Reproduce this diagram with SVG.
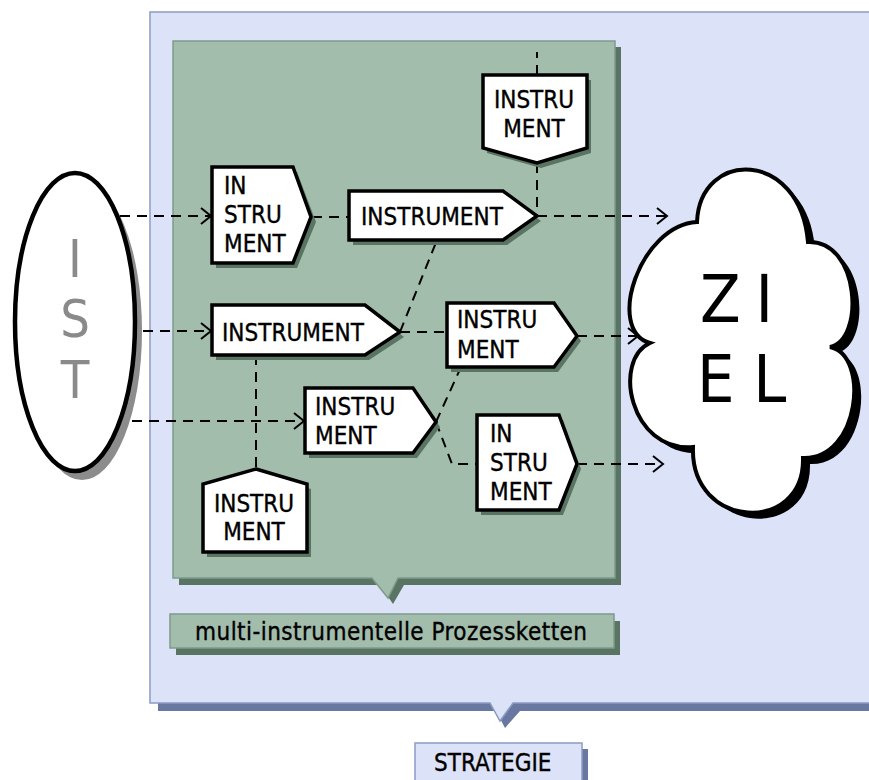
<svg xmlns="http://www.w3.org/2000/svg" width="869" height="780" viewBox="0 0 869 780">
<defs>
<style>
.lbl{font-family:"DejaVu Sans Condensed","DejaVu Sans","Liberation Sans",sans-serif;font-stretch:condensed;font-size:24px;fill:#000;stroke:#000;stroke-width:0.35}
.node{fill:#fff;stroke:#000;stroke-width:3.5;stroke-linejoin:miter}
.nsh{fill:#5a7464}
.con{fill:none;stroke:#000;stroke-width:2;stroke-dasharray:10 7}
.arr{marker-end:url(#chev)}
.big{font-family:"DejaVu Sans Condensed","DejaVu Sans",sans-serif;font-stretch:condensed}
</style>
<marker id="chev" markerUnits="userSpaceOnUse" markerWidth="14" markerHeight="20" refX="11" refY="10" orient="auto">
<path d="M1,2 L11,10 L1,18" fill="none" stroke="#000" stroke-width="2"/>
</marker>
</defs>
<rect width="869" height="780" fill="#fff"/>

<g id="strategie-frame">
<path d="M158,20 H880 V711 H520 L505,728 L496,711 H158 Z" fill="#6878a0"/>
<path d="M150,12 H880 V703 H513 L500,721 L490,703 H150 Z" fill="#dce3f8" stroke="#8c9bc2" stroke-width="1.5"/>
</g>

<g id="strategie-label">
<rect x="421" y="749" width="167" height="40" fill="#6878a0"/>
<rect x="415" y="743" width="167" height="40" fill="#dce3f8" stroke="#8c9bc2" stroke-width="1.5"/>
<text class="lbl" x="434" y="771">STRATEGIE</text>
</g>

<g id="prozess-frame">
<path d="M179,47 H621 V585 H404 L393,604 L380,585 H179 Z" fill="#5a7464"/>
<path d="M173,41 H615 V578 H398 L388,598 L372,578 H173 Z" fill="#a3bdad" stroke="#7f9a8c" stroke-width="1.5"/>
</g>

<g id="prozess-label">
<rect x="176" y="621" width="444" height="34" fill="#5a7464"/>
<rect x="170" y="614" width="444" height="34" fill="#a3bdad" stroke="#7f9a8c" stroke-width="1.5"/>
<text class="lbl" x="195" y="640" textLength="392">multi-instrumentelle Prozessketten</text>
</g>

<g id="ist">
<ellipse cx="82" cy="331" rx="60" ry="149" fill="#8c8c8c"/>
<ellipse cx="75" cy="322" rx="60" ry="149" fill="#fff" stroke="#000" stroke-width="4.5"/>
<text class="big" x="75" y="277" text-anchor="middle" font-size="52" fill="#8a8a8a">I</text>
<text class="big" x="75" y="337" text-anchor="middle" font-size="52" fill="#8a8a8a">S</text>
<text class="big" x="75" y="398" text-anchor="middle" font-size="52" fill="#8a8a8a">T</text>
</g>

<g id="ziel">
<path transform="translate(7,6)" d="M697,222 C700,149 800,149 808,242 C860,240 865,340 830,347 C870,355 860,460 803,458 C805,535 690,530 693,447 C630,452 612,360 650,343 C605,330 640,225 697,222 Z" fill="#000"/>
<path d="M697,222 C700,149 800,149 808,242 C860,240 865,340 830,347 C870,355 860,460 803,458 C805,535 690,530 693,447 C630,452 612,360 650,343 C605,330 640,225 697,222 Z" fill="#fff" stroke="#000" stroke-width="4"/>
<text class="big" x="700" y="322" font-size="66" letter-spacing="-2" fill="#000">Z I</text>
<text class="big" x="697" y="402" font-size="66" fill="#000">E L</text>
</g>

<g id="connectors">
<path class="con arr" d="M120,216 H211"/>
<path class="con" d="M312,217 H349"/>
<path class="con arr" d="M537,216 H667"/>
<path class="con" d="M537,75 V52"/>
<path class="con" d="M537,163 V216"/>
<path class="con arr" d="M143,331 H211"/>
<path class="con" d="M400,332 H447"/>
<path class="con" d="M400,332 L437,240"/>
<path class="con arr" d="M577,336 H638"/>
<path class="con arr" d="M132,421 H304"/>
<path class="con" d="M436,422 L461,367"/>
<path class="con" d="M436,422 L452,464 H477"/>
<path class="con arr" d="M577,464 H663"/>
<path class="con" d="M256,355 V469"/>
</g>

<g id="node-a">
<polygon class="nsh" points="216,172 297,172 316,222 297,268 216,268"/>
<polygon class="node" points="212,167 293,167 311,217 293,263 212,263"/>
<text class="lbl" x="224" y="194">IN</text>
<text class="lbl" x="224" y="223">STRU</text>
<text class="lbl" x="224" y="252">MENT</text>
</g>

<g id="node-b">
<polygon class="nsh" points="353,196 507,196 541,221 507,245 353,245"/>
<polygon class="node" points="349,191 503,191 537,216 503,240 349,240"/>
<text class="lbl" x="361" y="225">INSTRUMENT</text>
</g>

<g id="node-c">
<polygon class="nsh" points="487,80 591,80 591,153 541,168 487,153"/>
<polygon class="node" points="483,75 587,75 587,148 537,163 483,148"/>
<text class="lbl" x="534" y="108" text-anchor="middle">INSTRU</text>
<text class="lbl" x="534" y="137" text-anchor="middle">MENT</text>
</g>

<g id="node-d">
<polygon class="nsh" points="216,310 369,310 404,337 369,360 216,360"/>
<polygon class="node" points="212,305 365,305 400,332 365,355 212,355"/>
<text class="lbl" x="222" y="341">INSTRUMENT</text>
</g>

<g id="node-e">
<polygon class="nsh" points="451,308 558,308 581,341 558,372 451,372"/>
<polygon class="node" points="447,303 554,303 577,336 554,367 447,367"/>
<text class="lbl" x="457" y="328">INSTRU</text>
<text class="lbl" x="457" y="358">MENT</text>
</g>

<g id="node-f">
<polygon class="nsh" points="309,393 417,393 440,427 417,458 309,458"/>
<polygon class="node" points="305,388 413,388 436,422 413,453 305,453"/>
<text class="lbl" x="315" y="415">INSTRU</text>
<text class="lbl" x="315" y="444">MENT</text>
</g>

<g id="node-g">
<polygon class="nsh" points="481,420 563,420 581,469 563,515 481,515"/>
<polygon class="node" points="477,415 559,415 577,464 559,510 477,510"/>
<text class="lbl" x="490" y="442">IN</text>
<text class="lbl" x="490" y="471">STRU</text>
<text class="lbl" x="490" y="500">MENT</text>
</g>

<g id="node-h">
<polygon class="nsh" points="260,474 311,489 311,557 207,557 207,489"/>
<polygon class="node" points="256,469 307,484 307,552 203,552 203,484"/>
<text class="lbl" x="254" y="512" text-anchor="middle">INSTRU</text>
<text class="lbl" x="254" y="540" text-anchor="middle">MENT</text>
</g>
</svg>
